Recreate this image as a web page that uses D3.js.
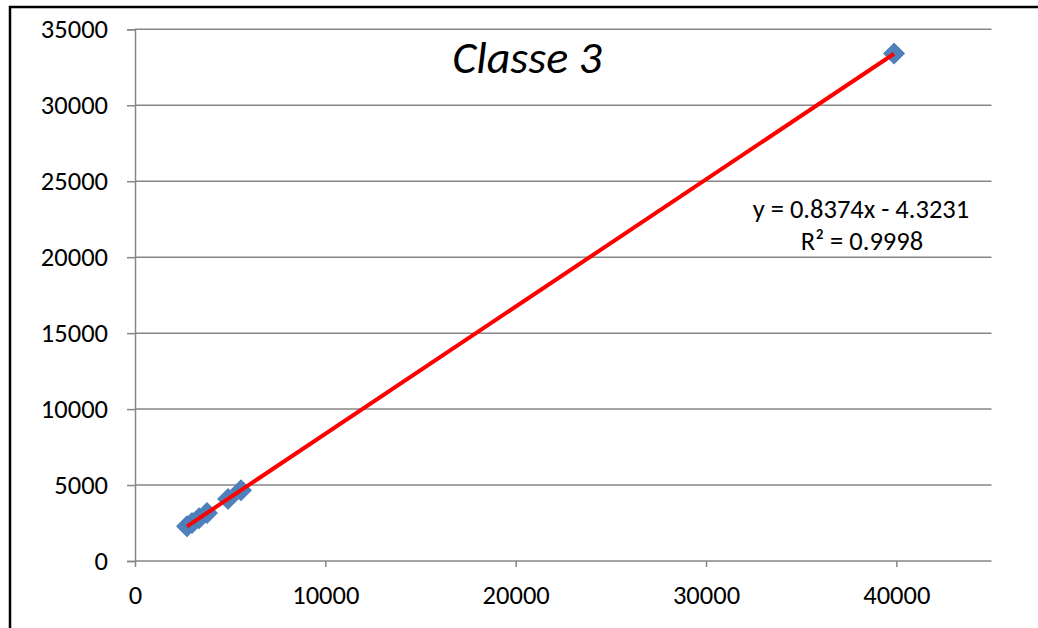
<!DOCTYPE html>
<html>
<head>
<meta charset="utf-8">
<script src="https://cdn.jsdelivr.net/npm/d3@7"></script>
<style>
  html, body { margin: 0; padding: 0; background: #fff; }
  svg { display: block; }
  text { font-family: Carlito, Calibri, "Liberation Sans", Arial, sans-serif; fill: #000; }
</style>
</head>
<body>
<svg id="chart" width="1038" height="628"></svg>
<script>
// Observed pairs (x, y)
const xValues = [2732, 2995, 3363, 3783, 4886, 5569, 39880];
const yValues = [2283, 2505, 2812, 3163, 4087, 4659, 33400];

// Linear trend line and its statistics
const slope = 0.8374;
const intercept = -4.3231;
const rSquared = 0.9998;

const chartTitle = "Classe 3";
const xTicks = [0, 10000, 20000, 30000, 40000];
const yTicks = [0, 5000, 10000, 15000, 20000, 25000, 30000, 35000];
const xDomain = [0, 45000];
const yDomain = [0, 35000];

const svg = d3.select("#chart");
const plot = { left: 135, right: 991.5, top: 29.3, bottom: 561 };
const fontStack = 'Carlito, Calibri, "Liberation Sans", Arial, sans-serif';

// Outer frame of the chart area
svg.append("rect")
  .attr("x", 10).attr("y", 7)
  .attr("width", 1100).attr("height", 700)
  .attr("fill", "none").attr("stroke", "#000").attr("stroke-width", 2.5);

const x = d3.scaleLinear().domain(xDomain).range([plot.left, plot.right]);
const y = d3.scaleLinear().domain(yDomain).range([plot.bottom, plot.top]);

const gridColor = "#868686";

// Horizontal gridlines
svg.append("g")
  .selectAll("line")
  .data(yTicks.filter(v => v > 0))
  .join("line")
  .attr("x1", plot.left).attr("x2", plot.right)
  .attr("y1", d => y(d)).attr("y2", d => y(d))
  .attr("stroke", gridColor).attr("stroke-width", 1.5);

// Y axis
const yAxis = svg.append("g")
  .attr("transform", `translate(${plot.left},0)`)
  .call(d3.axisLeft(y).tickValues(yTicks).tickFormat(d3.format("d")).tickSize(8).tickPadding(19));
yAxis.select(".domain").attr("stroke", gridColor).attr("stroke-width", 1.5);
yAxis.selectAll(".tick line").attr("stroke", gridColor).attr("stroke-width", 1.5);
yAxis.selectAll(".tick text")
  .style("font-size", "26.5px")
  .style("font-family", fontStack)
  .attr("fill", "#000");

// X axis
const xAxis = svg.append("g")
  .attr("transform", `translate(0,${plot.bottom})`)
  .call(d3.axisBottom(x).tickValues(xTicks).tickFormat(d3.format("d")).tickSize(6).tickPadding(18));
xAxis.select(".domain").attr("stroke", gridColor).attr("stroke-width", 1.5)
  .attr("d", `M${plot.left},0H${plot.right}`);
xAxis.selectAll(".tick line").attr("stroke", gridColor).attr("stroke-width", 1.5);
xAxis.selectAll(".tick text")
  .style("font-size", "26.5px")
  .style("font-family", fontStack)
  .attr("fill", "#000");

// Data markers (diamonds)
const points = xValues.map((v, i) => ({ x: v, y: yValues[i] }));
const diamond = d3.symbol().type(d3.symbolSquare).size(210);
svg.append("g")
  .selectAll("path")
  .data(points)
  .join("path")
  .attr("d", diamond)
  .attr("transform", d => `translate(${x(d.x)},${y(d.y)}) rotate(45)`)
  .attr("fill", "#4f81bd")
  .attr("stroke", "#4a7ab5")
  .attr("stroke-width", 1);

// Trend line over the data range
const xMin = d3.min(xValues), xMax = d3.max(xValues);
const trend = [xMin, xMax].map(v => ({ x: v, y: slope * v + intercept }));
svg.append("path")
  .datum(trend)
  .attr("d", d3.line().x(d => x(d.x)).y(d => y(d.y)))
  .attr("fill", "none")
  .attr("stroke", "#ff0000")
  .attr("stroke-width", 4);

// Equation label
const eq = svg.append("text")
  .attr("x", 861).attr("y", 218)
  .attr("text-anchor", "middle")
  .style("font-size", "26.5px");
eq.append("tspan").attr("x", 861).attr("dy", 0)
  .text(`y = ${slope.toFixed(4)}x - ${Math.abs(intercept).toFixed(4)}`);
eq.append("tspan").attr("x", 862).attr("dy", 32)
  .text(`R² = ${rSquared.toFixed(4)}`);

// Title
svg.append("text")
  .attr("x", 527).attr("y", 73)
  .attr("text-anchor", "middle")
  .style("font-size", "46px")
  .style("font-style", "italic")
  .text(chartTitle);
</script>
</body>
</html>
